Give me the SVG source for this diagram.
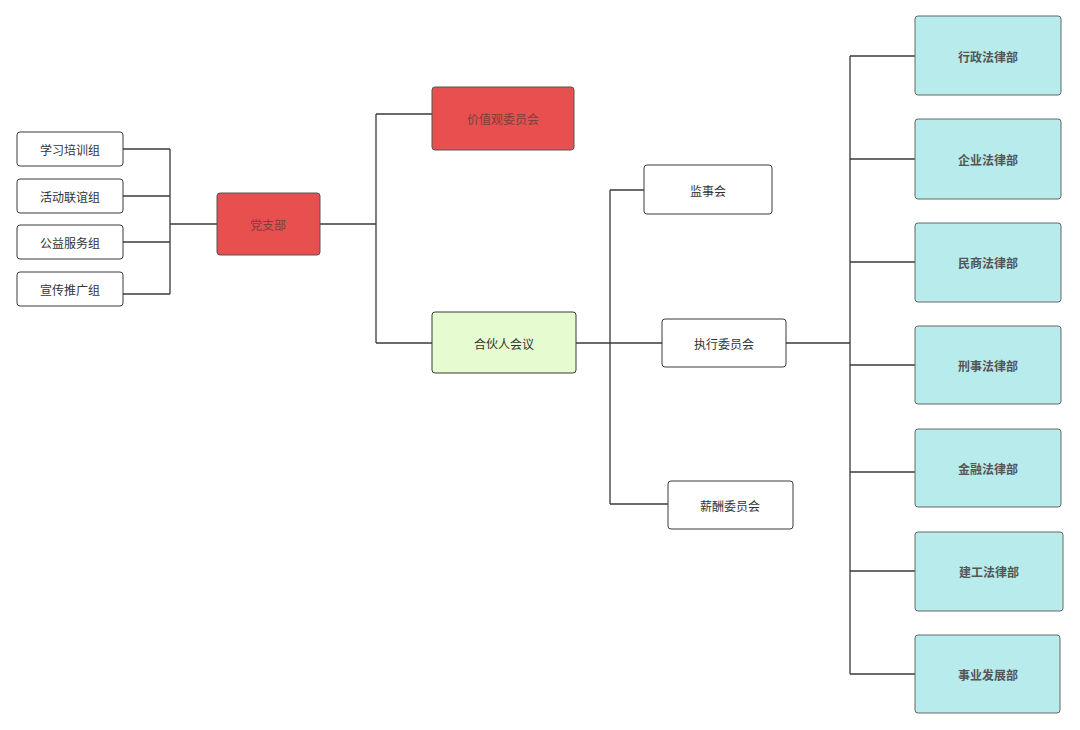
<svg xmlns="http://www.w3.org/2000/svg" width="1080" height="730" viewBox="0 0 1080 730">
<style>
.box{stroke:#3a3a3a;stroke-width:1;}
.w{fill:#ffffff;}
.r{fill:#e84f4f;stroke:#555;}
.g{fill:#e6fcd0;}
.c{fill:#b8ebeb;stroke:#666;}
text{font-family:"Noto Sans CJK SC","Liberation Sans",sans-serif;font-size:12px;text-anchor:middle;dominant-baseline:central;fill:#333;}
.tr{fill:#7a4040;}
.tb{font-weight:bold;fill:#555;}
.conn path{fill:none;stroke:#3a3a3a;stroke-width:1.3;}
</style>
<rect width="1080" height="730" fill="#ffffff"/>
<g class="conn">
<path d="M123,149H170M123,196H170M123,242H170M123,294H170M170,149V294M170,224H217"/>
<path d="M320,224H376M376,114V343M376,114H432M376,343H432"/>
<path d="M576,343H662M610,190V504M610,190H644M610,504H668"/>
<path d="M786,343H850M850,56V674M850,56H915M850,159H915M850,262H915M850,365H915M850,472H915M850,571H915M850,674H915"/>
</g>
<g id="n1"><rect class="box w" x="17" y="132" width="106" height="34" rx="3"/><text x="70" y="149">学习培训组</text></g>
<g id="n2"><rect class="box w" x="17" y="179" width="106" height="34" rx="3"/><text x="70" y="196">活动联谊组</text></g>
<g id="n3"><rect class="box w" x="17" y="225" width="106" height="34" rx="3"/><text x="70" y="242">公益服务组</text></g>
<g id="n4"><rect class="box w" x="17" y="272" width="106" height="34" rx="3"/><text x="70" y="289">宣传推广组</text></g>
<g id="party"><rect class="box r" x="217" y="193" width="103" height="62" rx="3"/><text class="tr" x="268" y="224">党支部</text></g>
<g id="values"><rect class="box r" x="432" y="87" width="142" height="63" rx="3"/><text class="tr" x="503" y="118">价值观委员会</text></g>
<g id="partners"><rect class="box g" x="432" y="312" width="144" height="61" rx="3"/><text x="504" y="343">合伙人会议</text></g>
<g id="supervisors"><rect class="box w" x="644" y="165" width="128" height="49" rx="3"/><text x="708" y="190">监事会</text></g>
<g id="exec"><rect class="box w" x="662" y="319" width="124" height="48" rx="3"/><text x="724" y="343">执行委员会</text></g>
<g id="salary"><rect class="box w" x="668" y="481" width="125" height="48" rx="3"/><text x="730" y="505">薪酬委员会</text></g>
<g id="d1"><rect class="box c" x="915" y="16" width="146" height="79" rx="3"/><text class="tb" x="988" y="56">行政法律部</text></g>
<g id="d2"><rect class="box c" x="915" y="119" width="146" height="80" rx="3"/><text class="tb" x="988" y="159">企业法律部</text></g>
<g id="d3"><rect class="box c" x="915" y="223" width="146" height="79" rx="3"/><text class="tb" x="988" y="262">民商法律部</text></g>
<g id="d4"><rect class="box c" x="915" y="326" width="146" height="78" rx="3"/><text class="tb" x="988" y="365">刑事法律部</text></g>
<g id="d5"><rect class="box c" x="915" y="429" width="146" height="78" rx="3"/><text class="tb" x="988" y="468">金融法律部</text></g>
<g id="d6"><rect class="box c" x="915" y="532" width="148" height="79" rx="3"/><text class="tb" x="989" y="571">建工法律部</text></g>
<g id="d7"><rect class="box c" x="915" y="635" width="145" height="78" rx="3"/><text class="tb" x="988" y="674">事业发展部</text></g>
</svg>
